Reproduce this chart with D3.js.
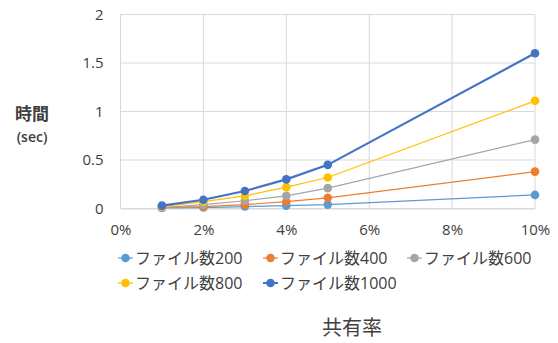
<!DOCTYPE html>
<html><head><meta charset="utf-8">
<script src="https://cdn.jsdelivr.net/npm/d3@7"></script>
<style>body{margin:0;background:#fff}svg{display:block}</style>
</head><body>
<svg id="c" width="558" height="343"></svg>
<script>
const xValues = [1, 2, 3, 4, 5, 10];
const xTicks = [0, 2, 4, 6, 8, 10];
const yTicks = [0, 0.5, 1, 1.5, 2];
const seriesNames = ["ファイル数200", "ファイル数400", "ファイル数600", "ファイル数800", "ファイル数1000"];
const seriesColors = ["#5B9BD5", "#ED7D31", "#A5A5A5", "#FFC000", "#4472C4"];
const s200 = [0.005, 0.01, 0.02, 0.03, 0.04, 0.14];
const s400 = [0.01, 0.02, 0.04, 0.07, 0.11, 0.38];
const s600 = [0.01, 0.04, 0.08, 0.13, 0.21, 0.71];
const s800 = [0.02, 0.07, 0.13, 0.22, 0.32, 1.11];
const s1000 = [0.03, 0.09, 0.18, 0.30, 0.45, 1.6];
const seriesValues = [s200, s400, s600, s800, s1000];

const svg = d3.select("#c");
const font = "'Open Sans', 'Noto Sans CJK JP', sans-serif";
const x = d3.scaleLinear().domain([0, 10]).range([120.5, 535]);
const y = d3.scaleLinear().domain([0, 2]).range([208.5, 14.5]);

// gridlines
svg.append("g").selectAll("line").data(yTicks).join("line")
  .attr("x1", x(0)).attr("x2", x(10)).attr("y1", d => y(d)).attr("y2", d => y(d))
  .attr("stroke", "#D9D9D9").attr("stroke-width", 1);
svg.append("g").selectAll("line").data(xTicks).join("line")
  .attr("y1", y(0)).attr("y2", y(2)).attr("x1", d => x(d)).attr("x2", d => x(d))
  .attr("stroke", "#D9D9D9").attr("stroke-width", 1);

// axes
const yAxis = d3.axisLeft(y).tickValues(yTicks).tickSize(0).tickPadding(17).tickFormat(d3.format("~g"));
const gy = svg.append("g").attr("transform", `translate(${x(0)},0)`).call(yAxis);
gy.select(".domain").remove();
gy.selectAll("text").attr("font-family", font).attr("font-size", 15).attr("fill", "#404040");

const xAxis = d3.axisBottom(x).tickValues(xTicks).tickSize(0).tickPadding(16).tickFormat(d => d + "%");
const gx = svg.append("g").attr("transform", `translate(0,${y(0)})`).call(xAxis);
gx.select(".domain").attr("stroke", "#D9D9D9");
gx.selectAll("text").attr("font-family", font).attr("font-size", 15).attr("fill", "#404040");

// lines
const line = d3.line().x((d, i) => x(xValues[i])).y(d => y(d));
seriesValues.forEach((vals, si) => {
  svg.append("path").datum(vals).attr("d", line).attr("fill", "none")
    .attr("stroke", seriesColors[si]).attr("stroke-width", si === 4 ? 2.2 : 1.2);
});
seriesValues.forEach((vals, si) => {
  svg.append("g").selectAll("circle").data(vals).join("circle")
    .attr("cx", (d, i) => x(xValues[i])).attr("cy", d => y(d)).attr("r", 4.3)
    .attr("fill", seriesColors[si]);
});

// legend
const legendPos = [[118, 258], [263, 258], [407, 258], [118, 283], [263, 283]];
seriesNames.forEach((name, i) => {
  const [lx, ly] = legendPos[i];
  const g = svg.append("g").attr("transform", `translate(${lx},${ly})`);
  g.append("line").attr("x1", 0).attr("x2", 15).attr("y1", 0).attr("y2", 0)
    .attr("stroke", seriesColors[i]).attr("stroke-width", i === 4 ? 2 : 1.2);
  g.append("circle").attr("cx", 7.5).attr("cy", 0).attr("r", 4.3).attr("fill", seriesColors[i]);
  g.append("text").attr("x", 17).attr("y", 0).attr("dy", "0.36em")
    .attr("font-family", font).attr("font-size", 16).attr("fill", "#404040").text(name);
});

// titles
svg.append("text").attr("x", 352).attr("y", 328).attr("dy", "0.36em").attr("text-anchor", "middle")
  .attr("font-family", font).attr("font-size", 20).attr("fill", "#404040").text("共有率");
svg.append("text").attr("x", 32).attr("y", 114).attr("dy", "0.36em").attr("text-anchor", "middle")
  .attr("font-family", font).attr("font-size", 17).attr("font-weight", "bold").attr("fill", "#404040").text("時間");
svg.append("text").attr("x", 32).attr("y", 137).attr("dy", "0.36em").attr("text-anchor", "middle")
  .attr("font-family", font).attr("font-size", 14).attr("font-weight", "600").attr("fill", "#404040").text("(sec)");
</script>
</body></html>
